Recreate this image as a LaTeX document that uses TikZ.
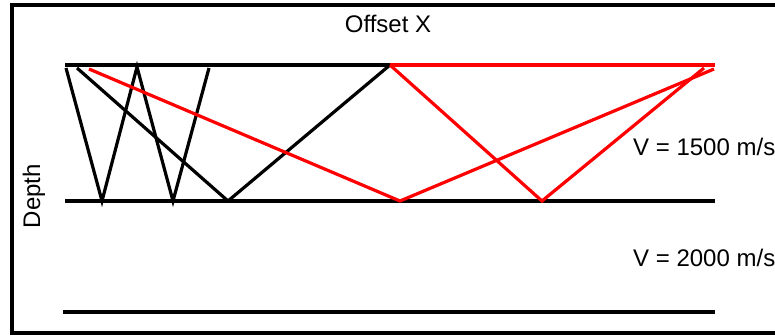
\documentclass[tikz,border=0pt]{standalone}
\usepackage{fontspec}
\setmainfont{Liberation Sans}
\usepackage{tikz}
\usetikzlibrary{positioning}
\usepackage{xcolor}
\definecolor{rayred}{RGB}{255, 0, 0}

\begin{document}
\begin{tikzpicture}[
        x=1pt, y=-1pt,
        layer/.style = {line width=3.5pt},
        ray/.style = {line width=3.2pt, line join=miter},
        redray/.style = {ray, draw=rayred},
        lbl/.style = {font=\fontsize{24}{28}\selectfont, inner sep=0pt},
    ]
        \useasboundingbox (0,0) rectangle (775,336);
        \draw[line width=3.4pt] (12,5) rectangle (790,333);
        % surface and reflectors
        \coordinate (sl) at (65,65);
        \coordinate (sm) at (390,65);
        \coordinate (sr) at (715,65);
        \draw[layer] (sl) -- (sm);
        \draw[layer, draw=rayred] (sm) -- (sr);
        \draw[layer] (65,201) coordinate (r1l) -- (715,201) coordinate (r1r);
        \draw[layer] (63,312) coordinate (r2l) -- (715,312) coordinate (r2r);
        % black rays
        \draw[ray] (66,68) -- (102,201) -- (137,67) -- (173,201) -- (209,68);
        \draw[ray] (77,68) -- (228,201) -- (sm);
        % red rays
        \draw[redray] (89,69) -- (400,201) -- (714,69);
        \draw[redray] (sm) -- (542,201) -- (704,68);
        % labels
        \node[lbl] (offset) at (388,24) {Offset X};
        \node[lbl, rotate=90] (depth) at (34,196) {Depth};
        \node[lbl, anchor=base west] (v1) at (633,156) {V = 1500 m/s};
        \node[lbl, anchor=base west] (v2) at (633,266) {V = 2000 m/s};
    \end{tikzpicture}
\end{document}
